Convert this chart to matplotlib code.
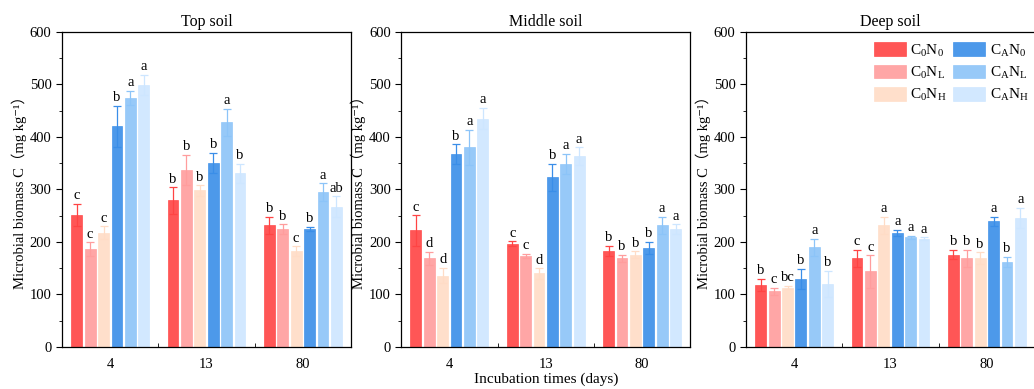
import matplotlib
matplotlib.use("Agg")
import matplotlib.pyplot as plt
import numpy as np

plt.rcParams['font.family'] = ['Liberation Serif', 'Noto Sans CJK SC', 'DejaVu Sans']
plt.rcParams['mathtext.fontset'] = 'custom'
plt.rcParams['mathtext.rm'] = 'Liberation Serif'
plt.rcParams['mathtext.it'] = 'Liberation Serif:italic'

days = ['4', '13', '80']
panels = ['Top soil', 'Middle soil', 'Deep soil']
treatments = [r'C$_\mathrm{0}$N$_\mathrm{0}$', r'C$_\mathrm{0}$N$_\mathrm{L}$', r'C$_\mathrm{0}$N$_\mathrm{H}$',
              r'C$_\mathrm{A}$N$_\mathrm{0}$', r'C$_\mathrm{A}$N$_\mathrm{L}$', r'C$_\mathrm{A}$N$_\mathrm{H}$']
colors = ['#ff4444', '#ff9d9d', '#ffdcc6', '#3a8ee8', '#8cc4f8', '#cde6ff']

# means [treatment][day]
top_mean = [[252, 279, 232], [186, 337, 225], [218, 298, 183],
            [420, 351, 225], [474, 428, 295], [499, 331, 267]]
top_err = [[21, 25, 16], [13, 29, 9], [12, 10, 9],
           [39, 19, 4], [14, 26, 17], [19, 18, 20]]
top_let = [['c', 'b', 'b'], ['c', 'b', 'b'], ['c', 'b', 'c'],
           ['b', 'b', 'b'], ['a', 'a', 'a'], ['a', 'b', 'ab']]

mid_mean = [[222, 197, 183], [169, 173, 169], [136, 140, 176],
            [367, 323, 189], [380, 349, 232], [435, 363, 225]]
mid_err = [[29, 4, 10], [12, 4, 7], [15, 10, 6],
           [19, 26, 11], [34, 19, 16], [20, 17, 9]]
mid_let = [['c', 'c', 'b'], ['d', 'c', 'b'], ['d', 'd', 'b'],
           ['b', 'b', 'b'], ['a', 'a', 'a'], ['a', 'a', 'a']]

deep_mean = [[118, 169, 176], [106, 144, 169], [113, 232, 169],
             [130, 217, 239], [190, 209, 162], [120, 206, 246]]
deep_err = [[12, 16, 9], [7, 31, 16], [3, 16, 11],
            [19, 6, 9], [16, 3, 10], [25, 3, 19]]
deep_let = [['b', 'c', 'b'], ['c', 'c', 'b'], ['bc', 'a', 'b'],
            ['b', 'a', 'a'], ['a', 'a', 'b'], ['b', 'a', 'a']]

all_mean = [top_mean, mid_mean, deep_mean]
all_err = [top_err, mid_err, deep_err]
all_let = [top_let, mid_let, deep_let]

fig = plt.figure(figsize=(10.34, 3.89), dpi=100)
lefts = [0.060, 0.388, 0.7215]
step = 0.139
width = 0.112
x = np.arange(len(days))

for p in range(3):
    ax = fig.add_axes([lefts[p], 0.108, 0.2795, 0.81])
    handles = []
    for i in range(6):
        xs = x + (i - 2.5) * step
        b = ax.bar(xs, all_mean[p][i], width, color=colors[i], alpha=0.9,
                   edgecolor=colors[i], linewidth=0.5, label=treatments[i])
        handles.append(b)
        ax.errorbar(xs, all_mean[p][i], yerr=all_err[p][i], fmt='none',
                    ecolor=colors[i], elinewidth=0.9, capsize=3, capthick=0.9)
        for j in range(3):
            ax.text(xs[j], all_mean[p][i][j] + all_err[p][i][j] + 3,
                    all_let[p][i][j], ha='center', va='bottom', fontsize=10.5)
    ax.set_xlim(-0.5, 2.5)
    ax.set_ylim(0, 600)
    ax.set_yticks(np.arange(0, 601, 100))
    ax.set_yticks(np.arange(50, 600, 100), minor=True)
    ax.set_xticks(x)
    ax.set_xticklabels(days)
    ax.set_xticks([0.5, 1.5], minor=True)
    ax.tick_params(axis='x', which='major', length=0, labelsize=10.5, pad=8)
    ax.tick_params(axis='x', which='minor', length=3, direction='in')
    ax.tick_params(axis='y', which='major', length=4, labelsize=10.5)
    ax.tick_params(axis='y', which='minor', length=2.5)
    for s in ax.spines.values():
        s.set_linewidth(0.9)
    ax.set_title(panels[p], fontsize=11.5, pad=4)
    ax.set_ylabel('Microbial biomass C（mg kg⁻¹）', fontsize=10.5, labelpad=2)
    if p == 1:
        ax.set_xlabel('Incubation times (days)', fontsize=11, labelpad=1)
    if p == 2:
        ax.legend(handles, treatments,
                  ncol=2, loc='upper right', fontsize=11, frameon=False,
                  handlelength=2.1, handleheight=1.0, columnspacing=0.4,
                  handletextpad=0.3, labelspacing=0.4,
                  bbox_to_anchor=(1.025, 1.01))

fig.savefig('out.png', dpi=100)
